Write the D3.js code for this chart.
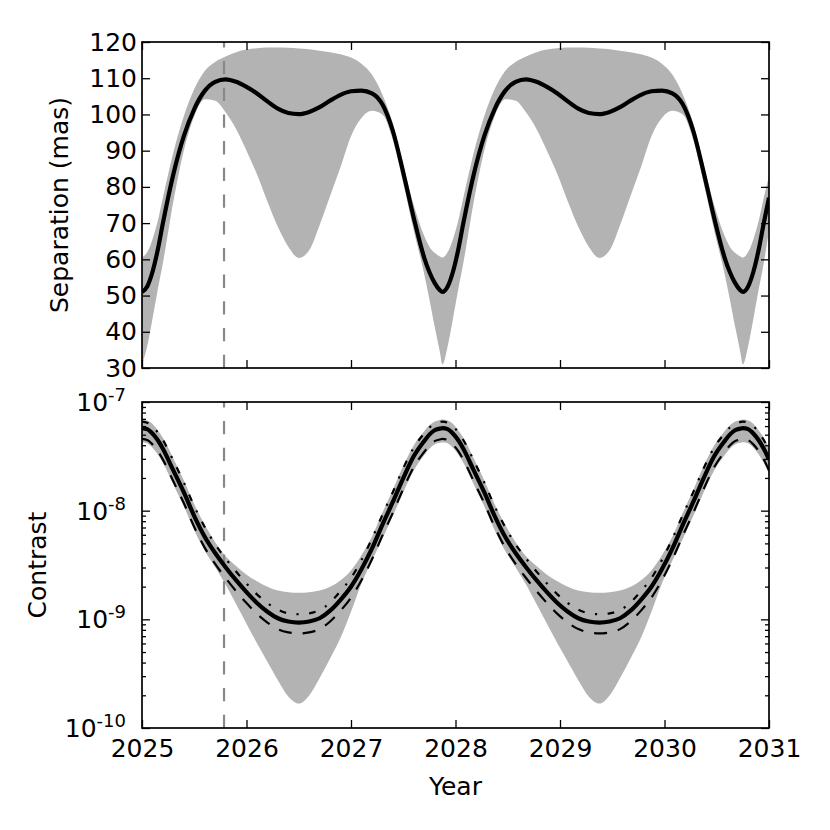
<!DOCTYPE html>
<html>
<head>
<meta charset="utf-8">
<script src="https://cdn.jsdelivr.net/npm/d3@7"></script>
<style>
  html, body { margin: 0; padding: 0; background: #fff; }
  svg { display: block; }
  text { font-family: "DejaVu Sans", sans-serif; fill: #000; }
</style>
</head>
<body>
<div id="chart"></div>
<script>
// ---------------- data ----------------
const years = [
  2025.00,2025.05,2025.10,2025.15,2025.20,2025.30,2025.40,2025.50,2025.60,2025.70,2025.80,2025.90,
  2026.00,2026.10,2026.20,2026.30,2026.40,2026.50,2026.60,2026.70,2026.80,2026.90,2027.00,2027.10,
  2027.20,2027.30,2027.40,2027.50,2027.60,2027.70,2027.75,2027.80,2027.85,
  2027.875,2027.925,2027.975,2028.025,2028.075,2028.175,2028.275,2028.375,2028.475,2028.575,2028.675,2028.775,
  2028.875,2028.975,2029.075,2029.175,2029.275,2029.375,2029.475,2029.575,2029.675,2029.775,2029.875,2029.975,
  2030.075,2030.175,2030.275,2030.375,2030.475,2030.575,2030.625,2030.675,2030.725,
  2030.75,2030.80,2030.85,2030.90,2030.95,2031.00
];

// separation in mas: best estimate, upper and lower envelope
const separation = [
  51.0,52.5,56.5,62.5,70.0,83.5,94.0,101.5,106.5,109.0,109.7,109.0,
  107.6,105.8,103.6,101.6,100.4,100.1,100.7,102.0,103.8,105.4,106.4,106.6,
  105.8,102.8,95.5,84.0,71.5,60.5,56.5,53.5,51.5,
  51.0,52.5,56.5,62.5,70.0,83.5,94.0,101.5,106.5,109.0,109.7,109.0,
  107.6,105.8,103.6,101.6,100.4,100.1,100.7,102.0,103.8,105.4,106.4,106.6,
  105.8,102.8,95.5,84.0,71.5,60.5,56.5,53.5,51.5,
  51.0,52.5,56.5,62.5,70.0,77.0
];
const separationUpper = [
  60.5,62.0,65.5,70.5,77.0,89.5,99.5,107.0,112.0,114.5,116.0,117.2,
  117.9,118.3,118.5,118.5,118.4,118.2,118.0,117.6,117.2,116.6,115.7,114.0,
  111.0,105.5,97.5,86.0,75.0,66.5,63.5,61.8,60.8,
  60.5,62.0,65.5,70.5,77.0,89.5,99.5,107.0,112.0,114.5,116.0,117.2,
  117.9,118.3,118.5,118.5,118.4,118.2,118.0,117.6,117.2,116.6,115.7,114.0,
  111.0,105.5,97.5,86.0,75.0,66.5,63.5,61.8,60.8,
  60.5,62.0,65.5,70.5,77.0,83.0
];
const separationLower = [
  31.0,36.0,43.5,51.5,59.0,76.0,90.0,99.5,104.2,103.8,100.6,96.0,
  90.0,83.5,76.0,69.0,63.5,60.4,62.5,69.5,77.5,85.5,94.0,99.0,
  101.0,100.0,93.0,81.0,68.0,56.0,49.0,41.5,34.5,
  31.0,36.0,43.5,51.5,59.0,76.0,90.0,99.5,104.2,103.8,100.6,96.0,
  90.0,83.5,76.0,69.0,63.5,60.4,62.5,69.5,77.5,85.5,94.0,99.0,
  101.0,100.0,93.0,81.0,68.0,56.0,49.0,41.5,34.5,
  31.0,36.0,43.5,51.5,59.0,68.0
];

// contrast, stored as log10(contrast)
const contrastLog = [
  -7.24,-7.25,-7.29,-7.35,-7.43,-7.63,-7.83,-8.05,-8.24,-8.39,-8.52,-8.64,
  -8.75,-8.85,-8.93,-8.99,-9.02,-9.03,-9.02,-8.99,-8.92,-8.82,-8.70,-8.54,
  -8.35,-8.13,-7.92,-7.70,-7.50,-7.36,-7.30,-7.26,-7.245,
  -7.24,-7.25,-7.29,-7.35,-7.43,-7.63,-7.83,-8.05,-8.24,-8.39,-8.52,-8.64,
  -8.75,-8.85,-8.93,-8.99,-9.02,-9.03,-9.02,-8.99,-8.92,-8.82,-8.70,-8.54,
  -8.35,-8.13,-7.92,-7.70,-7.50,-7.36,-7.30,-7.26,-7.245,
  -7.24,-7.25,-7.29,-7.35,-7.43,-7.53
];
const contrastHighLog = [   // dash-dot
  -7.18,-7.19,-7.22,-7.28,-7.35,-7.54,-7.74,-7.96,-8.15,-8.31,-8.44,-8.56,
  -8.67,-8.77,-8.85,-8.91,-8.945,-8.953,-8.945,-8.915,-8.845,-8.74,-8.62,-8.455,
  -8.26,-8.04,-7.83,-7.61,-7.42,-7.29,-7.235,-7.20,-7.185,
  -7.18,-7.19,-7.22,-7.28,-7.35,-7.54,-7.74,-7.96,-8.15,-8.31,-8.44,-8.56,
  -8.67,-8.77,-8.85,-8.91,-8.945,-8.953,-8.945,-8.915,-8.845,-8.74,-8.62,-8.455,
  -8.26,-8.04,-7.83,-7.61,-7.42,-7.29,-7.235,-7.20,-7.185,
  -7.18,-7.19,-7.22,-7.28,-7.35,-7.44
];
const contrastLowLog = [    // dashed
  -7.34,-7.35,-7.39,-7.45,-7.53,-7.73,-7.93,-8.15,-8.34,-8.49,-8.62,-8.74,
  -8.85,-8.95,-9.03,-9.09,-9.12,-9.13,-9.12,-9.09,-9.02,-8.92,-8.80,-8.64,
  -8.45,-8.23,-8.02,-7.80,-7.60,-7.46,-7.40,-7.36,-7.345,
  -7.34,-7.35,-7.39,-7.45,-7.53,-7.73,-7.93,-8.15,-8.34,-8.49,-8.62,-8.74,
  -8.85,-8.95,-9.03,-9.09,-9.12,-9.13,-9.12,-9.09,-9.02,-8.92,-8.80,-8.64,
  -8.45,-8.23,-8.02,-7.80,-7.60,-7.46,-7.40,-7.36,-7.345,
  -7.34,-7.35,-7.39,-7.45,-7.53,-7.63
];
const contrastBandUpperLog = [
  -7.16,-7.17,-7.20,-7.26,-7.33,-7.52,-7.72,-7.94,-8.13,-8.29,-8.42,-8.51,
  -8.59,-8.65,-8.70,-8.735,-8.75,-8.755,-8.75,-8.735,-8.70,-8.64,-8.55,-8.41,
  -8.24,-8.02,-7.81,-7.59,-7.40,-7.27,-7.215,-7.18,-7.165,
  -7.16,-7.17,-7.20,-7.26,-7.33,-7.52,-7.72,-7.94,-8.13,-8.29,-8.42,-8.51,
  -8.59,-8.65,-8.70,-8.735,-8.75,-8.755,-8.75,-8.735,-8.70,-8.64,-8.55,-8.41,
  -8.24,-8.02,-7.81,-7.59,-7.40,-7.27,-7.215,-7.18,-7.165,
  -7.16,-7.17,-7.20,-7.26,-7.33,-7.42
];
const contrastBandLowerLog = [
  -7.37,-7.38,-7.42,-7.48,-7.56,-7.76,-7.96,-8.18,-8.37,-8.52,-8.68,-8.86,
  -9.04,-9.22,-9.39,-9.56,-9.71,-9.775,-9.70,-9.54,-9.36,-9.17,-8.93,-8.67,
  -8.46,-8.26,-8.05,-7.83,-7.63,-7.49,-7.43,-7.39,-7.375,
  -7.37,-7.38,-7.42,-7.48,-7.56,-7.76,-7.96,-8.18,-8.37,-8.52,-8.68,-8.86,
  -9.04,-9.22,-9.39,-9.56,-9.71,-9.775,-9.70,-9.54,-9.36,-9.17,-8.93,-8.67,
  -8.46,-8.26,-8.05,-7.83,-7.63,-7.49,-7.43,-7.39,-7.375,
  -7.37,-7.38,-7.42,-7.48,-7.56,-7.66
];

const markerYear = 2025.785;
const xTickValues = [2025, 2026, 2027, 2028, 2029, 2030, 2031];
const sepTickValues = [30, 40, 50, 60, 70, 80, 90, 100, 110, 120];
const contrastExponents = [-10, -9, -8, -7];

// ---------------- layout ----------------
const W = 830, H = 830;
const left = 142, right = 769;
const top1 = 42, bot1 = 368;
const top2 = 402, bot2 = 728;
const FS = 25;

const svg = d3.select("#chart").append("svg").attr("width", W).attr("height", H);
svg.append("rect").attr("width", W).attr("height", H).attr("fill", "#fff");

const x = d3.scaleLinear().domain([2025, 2031]).range([left, right]);
const ySep = d3.scaleLinear().domain([30, 120]).range([bot1, top1]);
const yCon = d3.scaleLog().domain([1e-10, 1e-7]).range([bot2, top2]);

const defs = svg.append("defs");
defs.append("clipPath").attr("id", "clip1").append("rect")
  .attr("x", left).attr("y", top1).attr("width", right - left).attr("height", bot1 - top1);
defs.append("clipPath").attr("id", "clip2").append("rect")
  .attr("x", left).attr("y", top2).attr("width", right - left).attr("height", bot2 - top2);

const idx = d3.range(years.length);
const pow = v => Math.pow(10, v);
const curve = d3.curveMonotoneX;

// ---------------- top panel ----------------
const g1 = svg.append("g").attr("clip-path", "url(#clip1)");
g1.append("path")
  .attr("d", d3.area().curve(curve)
    .x(i => x(years[i])).y0(i => ySep(separationLower[i])).y1(i => ySep(separationUpper[i]))(idx))
  .attr("fill", "#b3b3b3");
g1.append("line")
  .attr("x1", x(markerYear)).attr("x2", x(markerYear)).attr("y1", bot1).attr("y2", top1)
  .attr("stroke", "#888").attr("stroke-width", 2.2).attr("stroke-dasharray", "13.3,13.4");
g1.append("path")
  .attr("d", d3.line().curve(curve).x(i => x(years[i])).y(i => ySep(separation[i]))(idx))
  .attr("fill", "none").attr("stroke", "#000").attr("stroke-width", 4.2)
  .attr("stroke-linejoin", "round");

// ---------------- bottom panel ----------------
const g2 = svg.append("g").attr("clip-path", "url(#clip2)");
g2.append("path")
  .attr("d", d3.area().curve(curve)
    .x(i => x(years[i])).y0(i => yCon(pow(contrastBandLowerLog[i]))).y1(i => yCon(pow(contrastBandUpperLog[i])))(idx))
  .attr("fill", "#b3b3b3");
g2.append("line")
  .attr("x1", x(markerYear)).attr("x2", x(markerYear)).attr("y1", bot2).attr("y2", top2)
  .attr("stroke", "#888").attr("stroke-width", 2.2).attr("stroke-dasharray", "13.3,13.4");
g2.append("path")
  .attr("d", d3.line().curve(curve).x(i => x(years[i])).y(i => yCon(pow(contrastHighLog[i])))(idx))
  .attr("fill", "none").attr("stroke", "#000").attr("stroke-width", 2.2)
  .attr("stroke-dasharray", "6.7,10.5,2.2,10.5");
g2.append("path")
  .attr("d", d3.line().curve(curve).x(i => x(years[i])).y(i => yCon(pow(contrastLowLog[i])))(idx))
  .attr("fill", "none").attr("stroke", "#000").attr("stroke-width", 2.2)
  .attr("stroke-dasharray", "13,11");
g2.append("path")
  .attr("d", d3.line().curve(curve).x(i => x(years[i])).y(i => yCon(pow(contrastLog[i])))(idx))
  .attr("fill", "none").attr("stroke", "#000").attr("stroke-width", 4.2)
  .attr("stroke-linejoin", "round");

// ---------------- axes ----------------
function styleAxis(sel) {
  sel.select(".domain").remove();
  sel.selectAll(".tick line").attr("stroke", "#000").attr("stroke-width", 1.3);
  sel.selectAll(".tick text").attr("font-family", "DejaVu Sans, sans-serif").attr("font-size", FS).attr("fill", "#000");
}

// top panel x ticks (top & bottom, no labels)
svg.append("g").attr("transform", `translate(0,${bot1})`)
  .call(d3.axisBottom(x).tickValues(xTickValues).tickSize(-8).tickFormat("")).call(styleAxis);
svg.append("g").attr("transform", `translate(0,${top1})`)
  .call(d3.axisTop(x).tickValues(xTickValues).tickSize(-8).tickFormat("")).call(styleAxis);
// top panel y ticks
svg.append("g").attr("transform", `translate(${left},0)`)
  .call(d3.axisLeft(ySep).tickValues(sepTickValues).tickSize(-8).tickPadding(5).tickFormat(d3.format("d")))
  .call(styleAxis);
svg.append("g").attr("transform", `translate(${right},0)`)
  .call(d3.axisRight(ySep).tickValues(sepTickValues).tickSize(-8).tickFormat(""))
  .call(styleAxis);

// bottom panel x ticks
svg.append("g").attr("transform", `translate(0,${bot2})`)
  .call(d3.axisBottom(x).tickValues(xTickValues).tickSize(-8).tickPadding(11).tickFormat(d3.format("d")))
  .call(styleAxis);
svg.append("g").attr("transform", `translate(0,${top2})`)
  .call(d3.axisTop(x).tickValues(xTickValues).tickSize(-8).tickFormat("")).call(styleAxis);

// bottom panel log y ticks
const majorCon = contrastExponents.map(e => Math.pow(10, e));
const minorCon = [];
contrastExponents.slice(0, -1).forEach(e => { for (let m = 2; m <= 9; m++) minorCon.push(m * Math.pow(10, e)); });

const yAxL = svg.append("g").attr("transform", `translate(${left},0)`)
  .call(d3.axisLeft(yCon).tickValues(majorCon).tickSize(-8).tickPadding(16).tickFormat(d => String(Math.round(Math.log10(d)))))
  .call(styleAxis);
yAxL.selectAll(".tick text").each(function(d) {
  const t = d3.select(this);
  const e = Math.round(Math.log10(d));
  t.text(null).attr("dy", "0.34em");
  t.append("tspan").text("10");
  t.append("tspan").attr("dy", -10).attr("font-size", 18).text("-" + Math.abs(e));
});
svg.append("g").attr("transform", `translate(${left},0)`)
  .call(d3.axisLeft(yCon).tickValues(minorCon).tickSize(-4).tickFormat("")).call(styleAxis);
svg.append("g").attr("transform", `translate(${right},0)`)
  .call(d3.axisRight(yCon).tickValues(majorCon).tickSize(-8).tickFormat("")).call(styleAxis);
svg.append("g").attr("transform", `translate(${right},0)`)
  .call(d3.axisRight(yCon).tickValues(minorCon).tickSize(-4).tickFormat("")).call(styleAxis);

// frames
[[top1, bot1], [top2, bot2]].forEach(([t, b]) => {
  svg.append("rect").attr("x", left).attr("y", t).attr("width", right - left).attr("height", b - t)
    .attr("fill", "none").attr("stroke", "#000").attr("stroke-width", 1.7);
});

// axis labels
svg.append("text").attr("transform", `translate(68,${(top1 + bot1) / 2}) rotate(-90)`)
  .attr("text-anchor", "middle").attr("font-size", FS).text("Separation (mas)");
svg.append("text").attr("transform", `translate(46,${(top2 + bot2) / 2}) rotate(-90)`)
  .attr("text-anchor", "middle").attr("font-size", FS).text("Contrast");
svg.append("text").attr("x", (left + right) / 2).attr("y", 795)
  .attr("text-anchor", "middle").attr("font-size", FS).text("Year");
</script>
</body>
</html>
